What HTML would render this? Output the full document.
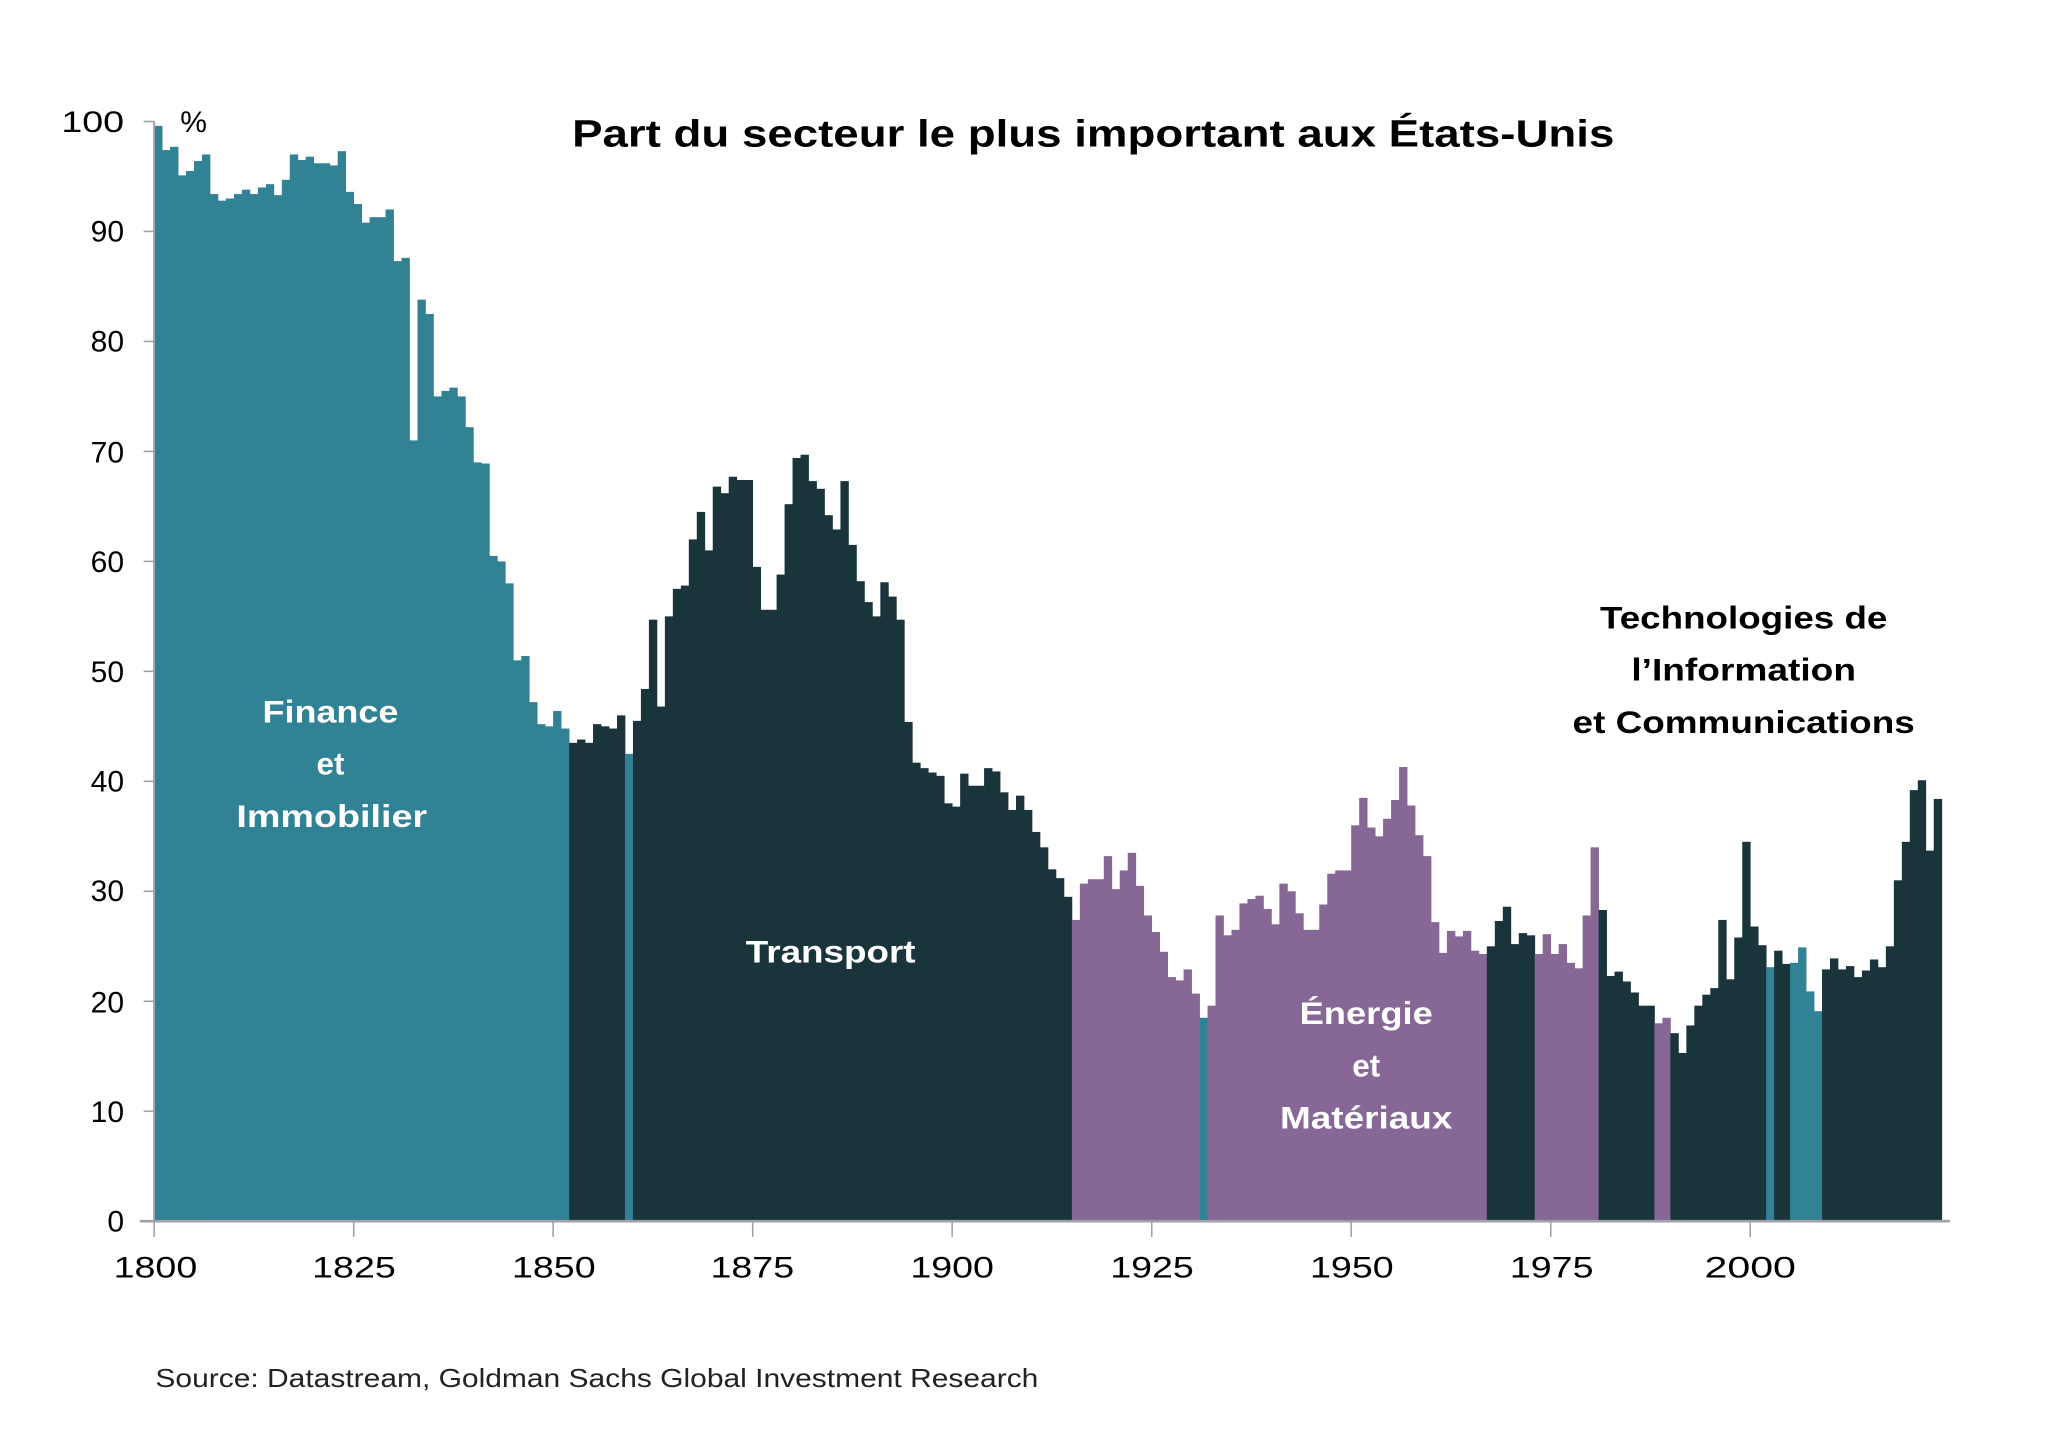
<!DOCTYPE html>
<html><head><meta charset="utf-8"><style>
html,body{margin:0;padding:0;background:#fff;}
svg{display:block;}
text{font-family:"Liberation Sans",sans-serif;}
</style></head><body>
<svg id="c" width="2048" height="1448" viewBox="0 0 1568 1108.6" xmlns="http://www.w3.org/2000/svg">
<rect width="1568" height="1108.6" fill="#fff"/>
<g id="bars"></g>
<line x1="118" y1="93" x2="118" y2="936" stroke="#a0a0a8" stroke-width="1.5"/>
<line x1="107" y1="935" x2="1493" y2="935" stroke="#a0a0a8" stroke-width="2"/>
<g stroke="#a0a0a8" stroke-width="1.2">
<line x1="110" y1="93" x2="118" y2="93"/><line x1="110" y1="177.2" x2="118" y2="177.2"/><line x1="110" y1="261.4" x2="118" y2="261.4"/><line x1="110" y1="345.6" x2="118" y2="345.6"/><line x1="110" y1="429.8" x2="118" y2="429.8"/><line x1="110" y1="514" x2="118" y2="514"/><line x1="110" y1="598.2" x2="118" y2="598.2"/><line x1="110" y1="682.4" x2="118" y2="682.4"/><line x1="110" y1="766.6" x2="118" y2="766.6"/><line x1="110" y1="850.8" x2="118" y2="850.8"/>
<line x1="118" y1="935" x2="118" y2="947"/><line x1="270.8" y1="935" x2="270.8" y2="947"/><line x1="423.5" y1="935" x2="423.5" y2="947"/><line x1="576.3" y1="935" x2="576.3" y2="947"/><line x1="729" y1="935" x2="729" y2="947"/><line x1="881.8" y1="935" x2="881.8" y2="947"/><line x1="1034.5" y1="935" x2="1034.5" y2="947"/><line x1="1187.3" y1="935" x2="1187.3" y2="947"/><line x1="1340" y1="935" x2="1340" y2="947"/>
</g>
<g font-size="23" fill="#000" text-anchor="end">
<text x="95" y="101" textLength="48" lengthAdjust="spacingAndGlyphs">100</text><text x="95" y="185">90</text><text x="95" y="269">80</text><text x="95" y="354">70</text><text x="95" y="438">60</text><text x="95" y="522">50</text><text x="95" y="606">40</text><text x="95" y="690">30</text><text x="95" y="775">20</text><text x="95" y="859">10</text><text x="95" y="943">0</text>
</g>
<text x="138" y="101" font-size="23">%</text>
<g font-size="23" fill="#000" text-anchor="middle">
<text x="119" y="978" textLength="64" lengthAdjust="spacingAndGlyphs">1800</text><text x="271" y="978" textLength="64" lengthAdjust="spacingAndGlyphs">1825</text><text x="424" y="978" textLength="64" lengthAdjust="spacingAndGlyphs">1850</text><text x="576" y="978" textLength="64" lengthAdjust="spacingAndGlyphs">1875</text><text x="729" y="978" textLength="64" lengthAdjust="spacingAndGlyphs">1900</text><text x="882" y="978" textLength="64" lengthAdjust="spacingAndGlyphs">1925</text><text x="1035" y="978" textLength="64" lengthAdjust="spacingAndGlyphs">1950</text><text x="1188" y="978" textLength="64" lengthAdjust="spacingAndGlyphs">1975</text><text x="1340" y="978" textLength="70" lengthAdjust="spacingAndGlyphs">2000</text>
</g>
<text x="837" y="112" font-size="29" font-weight="bold" text-anchor="middle" textLength="798" lengthAdjust="spacingAndGlyphs">Part du secteur le plus important aux États-Unis</text>
<g font-size="24" font-weight="bold" fill="#fff" text-anchor="middle">
<text x="253" y="553" textLength="104" lengthAdjust="spacingAndGlyphs">Finance</text><text x="253" y="593">et</text><text x="254" y="633" textLength="146" lengthAdjust="spacingAndGlyphs">Immobilier</text>
<text x="636" y="737" textLength="130" lengthAdjust="spacingAndGlyphs">Transport</text>
<text x="1046" y="784" textLength="102" lengthAdjust="spacingAndGlyphs">Énergie</text><text x="1046" y="824">et</text><text x="1046" y="864" textLength="132" lengthAdjust="spacingAndGlyphs">Matériaux</text>
</g>
<g font-size="24" font-weight="bold" fill="#000" text-anchor="middle">
<text x="1335" y="481" textLength="220" lengthAdjust="spacingAndGlyphs">Technologies de</text><text x="1335" y="521" textLength="172" lengthAdjust="spacingAndGlyphs">l’Information</text><text x="1335" y="561" textLength="262" lengthAdjust="spacingAndGlyphs">et Communications</text>
</g>
<text x="119" y="1062" font-size="20" fill="#222" textLength="676" lengthAdjust="spacingAndGlyphs">Source: Datastream, Goldman Sachs Global Investment Research</text>
</svg>
<script>
var v={
1800:99.6,1801:97.4,1802:97.7,1803:95.1,1804:95.5,1805:96.4,1806:97,1807:93.4,1808:92.8,1809:93,1810:93.4,1811:93.8,1812:93.4,1813:94,1814:94.3,1815:93.3,1816:94.7,1817:97,1818:96.5,1819:96.8,1820:96.2,1821:96.2,1822:96.0,1823:97.3,1824:93.6,1825:92.5,1826:90.8,1827:91.3,1828:91.3,1829:92,1830:87.3,1831:87.6,1832:71,1833:83.8,1834:82.5,1835:75,1836:75.5,1837:75.8,1838:75,1839:72.2,1840:69,1841:68.9,1842:60.5,1843:60,1844:58,1845:51,1846:51.4,1847:47.2,1848:45.2,1849:45,1850:46.4,1851:44.8,
1852:43.5,1853:43.8,1854:43.5,1855:45.2,1856:45,1857:44.8,1858:46,1859:42.5,1860:45.5,1861:48.4,1862:54.7,1863:46.8,1864:55,1865:57.5,1866:57.8,1867:62,1868:64.5,1869:61,1870:66.8,1871:66.2,1872:67.7,1873:67.4,1874:67.4,1875:59.5,1876:55.6,1877:55.6,1878:58.8,1879:65.2,1880:69.4,1881:69.7,1882:67.3,1883:66.6,1884:64.2,1885:62.9,1886:67.3,1887:61.5,1888:58.2,1889:56.3,1890:55,1891:58.1,1892:56.8,1893:54.7,1894:45.4,1895:41.7,1896:41.2,1897:40.8,1898:40.5,1899:38,1900:37.7,1901:40.7,1902:39.6,1903:39.6,1904:41.2,1905:40.9,1906:39,1907:37.4,1908:38.7,1909:37.4,1910:35.4,1911:34,1912:32,1913:31.2,1914:29.5,
1915:27.4,1916:30.7,1917:31.1,1918:31.1,1919:33.2,1920:30.2,1921:31.9,1922:33.5,1923:30.5,1924:27.8,1925:26.3,1926:24.5,1927:22.2,1928:21.9,1929:22.9,1930:20.7,1931:18.5,1932:19.6,1933:27.8,1934:26,1935:26.5,1936:28.9,1937:29.3,1938:29.6,1939:28.4,1940:27,1941:30.7,1942:30,1943:28,1944:26.5,1945:26.5,1946:28.8,1947:31.6,1948:31.9,1949:31.9,1950:36,1951:38.5,1952:35.8,1953:35,1954:36.6,1955:38.3,1956:41.3,1957:37.8,1958:35.1,1959:33.2,1960:27.2,1961:24.4,1962:26.4,1963:25.9,1964:26.4,1965:24.6,1966:24.3,
1967:25,1968:27.3,1969:28.6,1970:25.2,1971:26.2,1972:26,1973:24.3,1974:26.1,1975:24.3,1976:25.2,1977:23.5,1978:23,1979:27.8,1980:34,1981:28.3,1982:22.3,1983:22.7,1984:21.8,1985:20.8,1986:19.6,1987:19.6,1988:18,1989:18.5,
1990:17.1,1991:15.3,1992:17.8,1993:19.6,1994:20.6,1995:21.2,1996:27.4,1997:22,1998:25.8,1999:34.5,2000:26.8,2001:25.1,2002:23.1,2003:24.6,2004:23.4,2005:23.5,2006:24.9,2007:20.9,2008:19.1,
2009:22.9,2010:23.9,2011:22.9,2012:23.2,2013:22.2,2014:22.8,2015:23.8,2016:23.1,2017:25,2018:31,2019:34.5,2020:39.2,2021:40.1,2022:33.7,2023:38.4};
var T="#318294",D="#19343b",P="#866795";
function col(y){
 if(y<1852)return T; if(y<1859)return D; if(y==1859)return T; if(y<1915)return D;
 if(y<1931)return P; if(y==1931)return T; if(y<1967)return P; if(y<1973)return D;
 if(y<1981)return P; if(y<1988)return D; if(y<1990)return P; if(y<2002)return D;
 if(y==2002)return T; if(y<2005)return D; if(y<2009)return T; return D;}
var g=document.getElementById("bars"),s="";
for(var y=1800;y<=2023;y++){var x=118+(y-1800)*6.11,h=v[y]*8.42;
s+='<rect x="'+x.toFixed(2)+'" y="'+(935-h).toFixed(2)+'" width="6.4" height="'+h.toFixed(2)+'" fill="'+col(y)+'"/>';}
g.innerHTML=s;
</script>
</body></html>
